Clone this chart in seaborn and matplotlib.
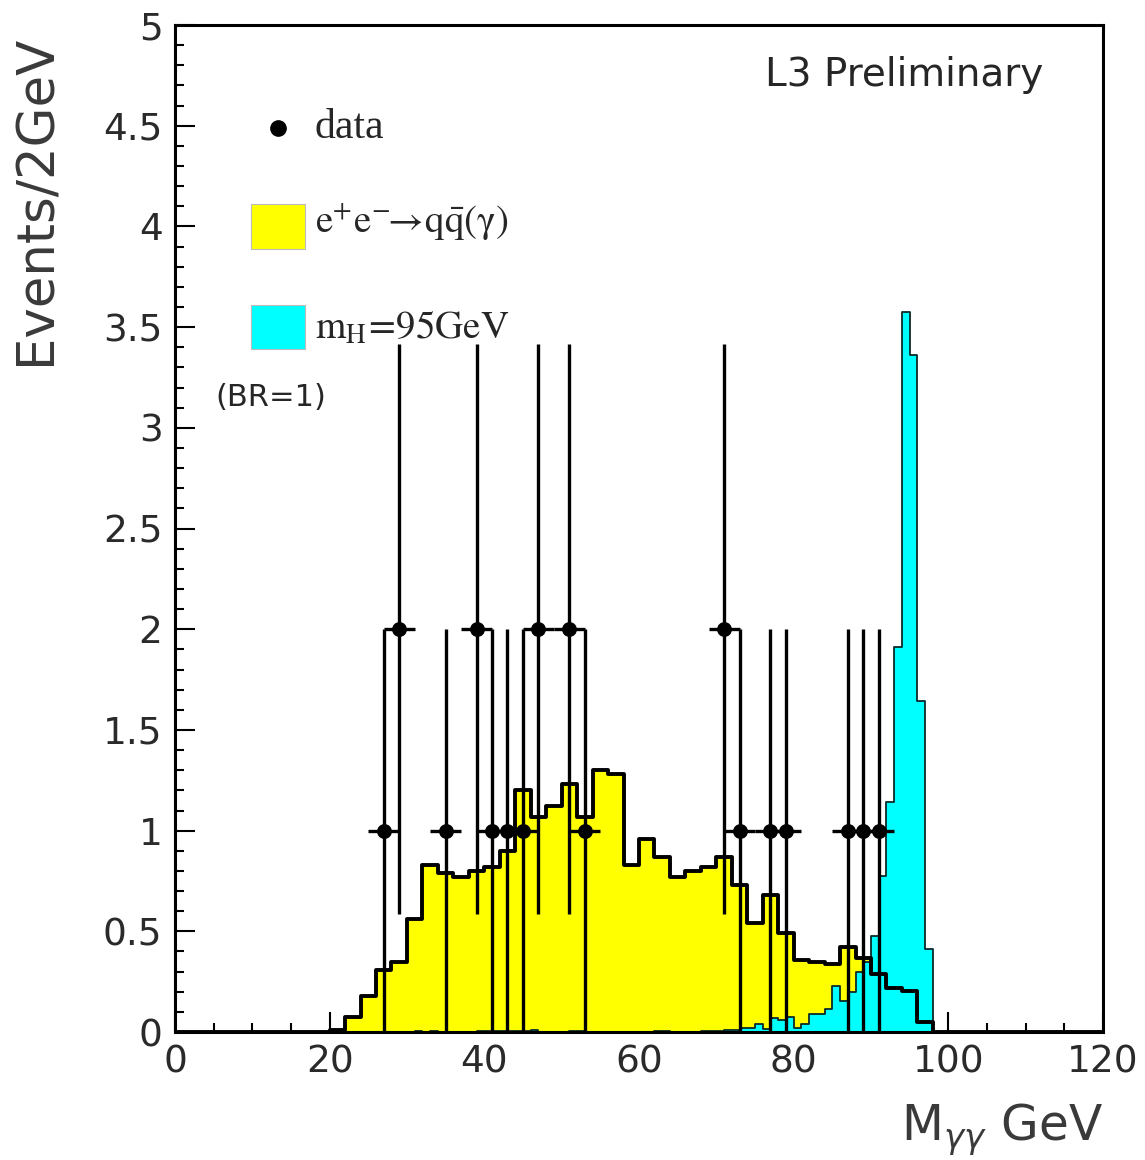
import numpy as np
import pandas as pd
import matplotlib
matplotlib.use("Agg")
import matplotlib.pyplot as plt
from matplotlib.ticker import MultipleLocator, FuncFormatter
import seaborn as sns

sns.set_style("white")
plt.rcParams['font.family'] = ['DejaVu Sans']
plt.rcParams['mathtext.fontset'] = 'stix'

# ---------------- data ----------------
# background e+e- -> qq(gamma), 2 GeV bins from 0 to 120
bg_edges = [float(v) for v in range(0, 122, 2)]
bg_values = [0, 0, 0, 0, 0, 0, 0, 0, 0, 0,                    # 0-20
             0.012, 0.076, 0.18, 0.31, 0.35,                  # 20-30
             0.56, 0.83, 0.79, 0.77, 0.80,                    # 30-40
             0.82, 0.90, 1.20, 1.07, 1.12,                    # 40-50
             1.23, 1.07, 1.30, 1.28, 0.83,                    # 50-60
             0.96, 0.87, 0.77, 0.80, 0.82,                    # 60-70
             0.87, 0.73, 0.54, 0.68, 0.49,                    # 70-80
             0.36, 0.35, 0.34, 0.42, 0.37,                    # 80-90
             0.29, 0.22, 0.205, 0.05, 0,                      # 90-100
             0, 0, 0, 0, 0, 0, 0, 0, 0, 0]                    # 100-120

# signal mH = 95 GeV, 1 GeV bins from 30 to 100
sig_edges = [float(v) for v in range(30, 101, 1)]
sig_values = [0, 0.007, 0, 0.007, 0, 0, 0, 0, 0, 0.003,       # 30-40
              0.003, 0.003, 0.003, 0.003, 0.003, 0.003, 0.01, 0, 0, 0,   # 40-50
              0, 0.003, 0.003, 0, 0, 0, 0, 0, 0, 0,           # 50-60
              0, 0, 0.007, 0.007, 0, 0, 0, 0, 0.006, 0.006,  # 60-70
              0.006, 0.01, 0.01, 0.02, 0.02, 0.04, 0.015, 0.07, 0.06, 0.073,  # 70-80
              0.018, 0.04, 0.088, 0.088, 0.116, 0.23, 0.155, 0.197, 0.30, 0.35,  # 80-90
              0.477, 0.775, 1.14, 1.91, 3.574, 3.36, 1.645, 0.41, 0, 0]  # 90-100

# data points
data_x = [27, 29, 35, 39, 41, 43, 45, 47, 51, 53, 71, 73, 77, 79, 87, 89, 91]
data_y = [1, 2, 1, 2, 1, 1, 1, 2, 2, 1, 2, 1, 1, 1, 1, 1, 1]
data_yerr = [1.0, 1.414, 1.0, 1.414, 1.0, 1.0, 1.0, 1.414, 1.414, 1.0,
             1.414, 1.0, 1.0, 1.0, 1.0, 1.0, 1.0]
data_xerr = 2.0

bg_e = np.asarray(bg_edges)
sig_e = np.asarray(sig_edges)
bg_df = pd.DataFrame({"m": (bg_e[:-1] + bg_e[1:]) / 2,
                      "w": np.asarray(bg_values, dtype=float)})
sig_df = pd.DataFrame({"m": (sig_e[:-1] + sig_e[1:]) / 2,
                       "w": np.asarray(sig_values, dtype=float)})
pts_df = pd.DataFrame({"m": data_x, "n": data_y})

# ---------------- figure ----------------
fig = plt.figure(figsize=(11.45, 11.6), dpi=100)
ax = fig.add_axes([0.1528, 0.1103, 0.8105, 0.8681])

sns.histplot(data=bg_df, x="m", weights="w", bins=bg_edges, element="step",
             fill=True, color="#ffff00", alpha=1, linewidth=0, ax=ax, zorder=1)
sns.histplot(data=sig_df, x="m", weights="w", bins=sig_edges, element="step",
             fill=True, color="#00ffff", alpha=1, edgecolor="#0b2a2a",
             linewidth=1.3, ax=ax, zorder=2)
sns.histplot(data=bg_df, x="m", weights="w", bins=bg_edges, element="step",
             fill=False, color="black", linewidth=2.8, ax=ax, zorder=3)

ax.errorbar(data_x, data_y, xerr=data_xerr, yerr=data_yerr, fmt="none",
            ecolor="black", elinewidth=2.4, capsize=0, zorder=4)
sns.scatterplot(data=pts_df, x="m", y="n", s=115, color="black",
                edgecolor="black", linewidth=0, ax=ax, zorder=5)

ax.set_xlim(0, 120)
ax.set_ylim(0, 5)
ax.set_xlabel("")
ax.set_ylabel("")

# ticks
ax.xaxis.set_major_locator(MultipleLocator(20))
ax.xaxis.set_minor_locator(MultipleLocator(5))
ax.yaxis.set_major_locator(MultipleLocator(0.5))
ax.yaxis.set_minor_locator(MultipleLocator(0.1))
ax.yaxis.set_major_formatter(FuncFormatter(lambda v, p: "%g" % v))
ax.tick_params(which="both", direction="in", top=False, right=False,
               bottom=True, left=True, width=1.5, color="black")
ax.tick_params(which="major", length=14.5, labelsize=27, pad=9, labelcolor="#2a2a2a")
ax.tick_params(which="minor", length=6.5)
for s in ax.spines.values():
    s.set_linewidth(2.2)
    s.set_color("black")

# axis titles
ax.text(-0.149, 0.826, "Events/2GeV", transform=ax.transAxes, rotation=90,
        ha="center", va="center", fontsize=37, color="#3a3a3a")
ax.text(1.0, -0.097, r"M$_{\gamma\gamma}$ GeV", transform=ax.transAxes,
        ha="right", va="center", fontsize=35, color="#3a3a3a",
        math_fontfamily="dejavusans")

# legend
ax.plot([13.3], [4.49], "o", color="black", markersize=11, zorder=6)
ax.text(18.1, 4.49, "data", family="Liberation Serif", fontsize=30,
        ha="left", va="center")
ax.fill_between([9.8, 16.8], 3.89, 4.11, color="#ffff00", linewidth=0.8,
                edgecolor="#bbbbbb", zorder=6)
ax.text(18.1, 4.02, r"$\mathrm{e^{+}e^{-}\!\!\rightarrow\! q\bar{q}(\gamma)}$",
        fontsize=28, ha="left", va="center")
ax.fill_between([9.8, 16.8], 3.39, 3.61, color="#00ffff", linewidth=0.8,
                edgecolor="#bbbbbb", zorder=6)
ax.text(18.1, 3.50, r"$\mathrm{m_{H}\!=\!95GeV}$",
        fontsize=28, ha="left", va="center")
ax.text(5.2, 3.15, "(BR=1)", fontsize=22, ha="left", va="center")

ax.text(112.3, 4.75, "L3 Preliminary", fontsize=28, ha="right", va="center")

fig.savefig("out.png", dpi=100)
